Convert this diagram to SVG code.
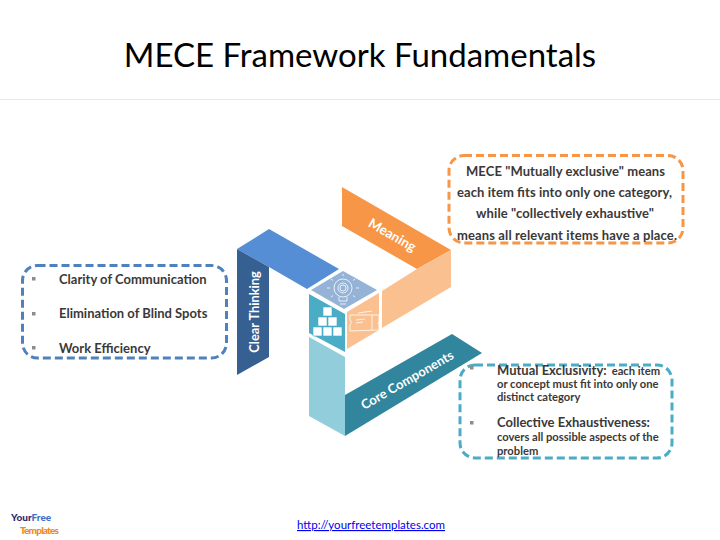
<svg xmlns="http://www.w3.org/2000/svg" width="720" height="540" viewBox="0 0 720 540">
<style>
text{font-family:"Lato","Liberation Sans",sans-serif;fill:#3b3838;font-weight:700}
.t{font-size:13px}
.s{font-size:11.200px}
.lbl{fill:#fff;font-size:14px;text-anchor:middle;font-weight:700}
.box{fill:#fff;stroke-width:3;stroke-dasharray:8 4}
.b{fill:#8c8c8c}
.ic{fill:none;stroke:#fff;stroke-width:.8}
.c{text-anchor:middle}
</style>
<rect width="720" height="540" fill="#fff"/>
<text id="title" x="360" y="67" text-anchor="middle" style="font-size:33px;font-weight:400;fill:#000">MECE Framework Fundamentals</text>
<line x1="0" y1="99.500" x2="720" y2="99.500" stroke="#e7e7e7"/>

<g id="node-meaning">
<polygon points="342,187 451,250 417,269 342,226" fill="#f79646"/>
<polygon points="451,250 451,287 382,328 382,291 417,269" fill="#fac08f"/>
<text class="lbl" style="font-size:13.500px" transform="translate(390,239) rotate(30)">Meaning</text>
</g>
<g id="node-clear-thinking">
<polygon points="269,229 339,269 307,289 269,267 237,249" fill="#558ed5"/>
<polygon points="237,249 269,267 269,357 237,375" fill="#366092"/>
<text class="lbl" style="font-size:12.800px" transform="translate(259,312) rotate(-90)">Clear Thinking</text>
</g>
<g id="node-core-components">
<polygon points="309,337 345,357 345,436 309,416" fill="#92cddc"/>
<polygon points="345,395 452,334 482,353 345,436" fill="#31859c"/>
<text class="lbl" style="font-size:13px" transform="translate(409.500,384) rotate(-30)">Core Components</text>
</g>
<g id="node-hub">
<polygon points="343,271 377,290 344,309 311,290" fill="#95b3d7"/>
<polygon points="309,294 345,314 345,352 309,333" fill="#4bacc6"/>
<polygon points="347,312 379,293 379,330 347,349" fill="#fac08f"/>
<g class="ic">
<circle cx="343" cy="288" r="9"/>
<circle cx="343" cy="288" r="3"/>
<circle cx="343" cy="288" r="5"/>
<path d="M339 297v4h8v-4M340 304h6M343 274v2M331 279l2 1.500M355 279l-2 1.500M327 288h3M356 288h3M331 297l2-1.500M355 297l-2-1.500"/>
<path d="M350 315h29v7q-2 1 0 3v5l-29 1v-6q3-3 0-5zM358 313l14-2M356 320l9-1M356 323l7-1M372 315v15"/>
</g>
<g fill="#fff" stroke="#4bacc6" stroke-width=".6">
<rect x="323" y="307" width="9" height="9"/>
<rect x="318" y="317" width="9" height="9"/>
<rect x="328" y="317" width="9" height="9"/>
<rect x="313" y="327" width="9" height="9"/>
<rect x="323" y="327" width="9" height="9"/>
<rect x="333" y="327" width="9" height="9"/>
</g>
</g>

<g id="node-definition">
<rect class="box" x="449" y="155.500" width="234" height="87.500" rx="15" stroke="#f79646"/>
<text class="t c" x="565.500" y="176" textLength="199" lengthAdjust="spacing">MECE "Mutually exclusive" means</text>
<text class="t c" x="564.500" y="197" textLength="215" lengthAdjust="spacing">each item fits into only one category,</text>
<text class="t c" x="565" y="218" textLength="178" lengthAdjust="spacing">while "collectively exhaustive"</text>
<text class="t c" x="567" y="240" textLength="220" lengthAdjust="spacing">means all relevant items have a place.</text>
</g>
<g id="node-benefits">
<rect class="box" x="22.500" y="265.500" width="204" height="92.500" rx="15" stroke="#4f81bd"/>
<rect class="b" x="32" y="277" width="3.500" height="3.500"/>
<rect class="b" x="32" y="312" width="3.500" height="3.500"/>
<rect class="b" x="32" y="346" width="3.500" height="3.500"/>
<text class="t" x="59" y="284">Clarity of Communication</text>
<text class="t" x="59" y="318">Elimination of Blind Spots</text>
<text class="t" x="59" y="353">Work Efficiency</text>
</g>
<g id="node-components">
<rect class="box" x="460" y="365" width="212" height="93" rx="15" stroke="#4bacc6"/>
<rect class="b" x="470" y="366" width="3.500" height="3.500"/>
<rect class="b" x="470" y="421" width="3.500" height="3.500"/>
<text class="t" x="497" y="375">Mutual Exclusivity:<tspan class="s" dx="5">each item</tspan></text>
<text class="s" x="497" y="388">or concept must fit into only one</text>
<text class="s" x="497" y="401">distinct category</text>
<text class="t" x="497" y="427">Collective Exhaustiveness:</text>
<text class="s" x="497" y="441">covers all possible aspects of the</text>
<text class="s" x="497" y="455">problem</text>
</g>

<g id="logo">
<text x="11" y="521" style="font-size:10px;font-weight:900;fill:#2e2a6e">Your<tspan fill="#3f6fc4">Free</tspan></text>
<text x="20" y="534" style="font-size:10px;font-weight:900;fill:#f08a24" textLength="39">Templates</text>
</g>
<text id="link" x="371" y="529" text-anchor="middle" text-decoration="underline" style="font-size:11.500px;font-weight:400;fill:#0000ee">http://yourfreetemplates.com</text>
</svg>
